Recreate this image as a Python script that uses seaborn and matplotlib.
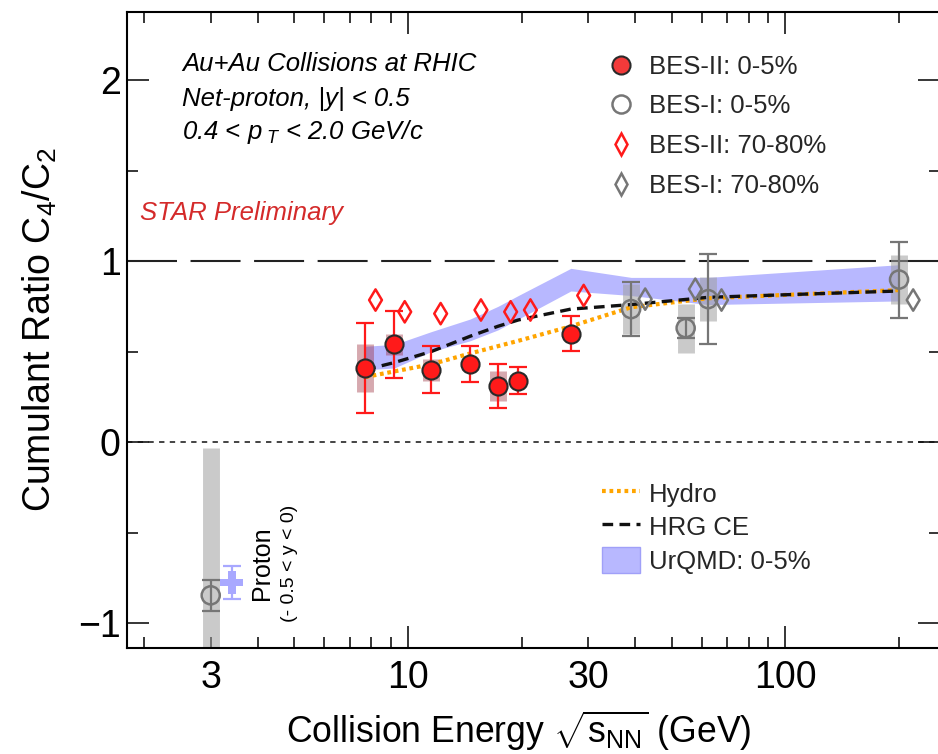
import numpy as np
import pandas as pd
import matplotlib
matplotlib.use("Agg")
import matplotlib.pyplot as plt
import seaborn as sns
from matplotlib.lines import Line2D
from matplotlib.patches import Patch
from matplotlib.ticker import FixedLocator, FixedFormatter

# ---------------- data ----------------
bes2_energy = [7.7, 9.2, 11.5, 14.6, 17.3, 19.6, 27.0]
bes2_ratio = [0.41, 0.54, 0.40, 0.43, 0.31, 0.34, 0.60]
bes2_stat = [0.25, 0.185, 0.13, 0.10, 0.12, 0.075, 0.095]
bes2_sys = [0.13, 0.06, 0.06, 0.03, 0.085, 0.03, 0.03]

bes1_energy = [3.0, 39.0, 54.4, 62.4, 200.0]
bes1_ratio = [-0.845, 0.735, 0.63, 0.79, 0.898]
bes1_stat = [0.085, 0.15, 0.057, 0.25, 0.21]
bes1_sys = [0.815, 0.14, 0.135, 0.12, 0.135]

# 70-80% centrality (plotted with small energy offsets)
per_bes2_energy = [8.2, 9.8, 12.2, 15.6, 18.7, 21.1, 29.2]
per_bes2_ratio = [0.785, 0.72, 0.71, 0.73, 0.72, 0.73, 0.81]
per_bes1_energy = [42.5, 57.7, 67.7, 218.0]
per_bes1_ratio = [0.79, 0.845, 0.785, 0.785]

urqmd_energy = [7.7, 9.2, 11.5, 14.6, 17.3, 19.6, 27.0, 39.0, 62.4, 200.0]
urqmd_low = [0.40, 0.41, 0.50, 0.56, 0.62, 0.68, 0.835, 0.81, 0.76, 0.78]
urqmd_high = [0.53, 0.54, 0.61, 0.68, 0.75, 0.81, 0.96, 0.91, 0.91, 0.98]

hrg_energy = [7.7, 9.2, 11.5, 14.6, 17.3, 19.6, 27.0, 39.0, 62.4, 200.0]
hrg_ratio = [0.40, 0.44, 0.50, 0.585, 0.64, 0.675, 0.735, 0.76, 0.80, 0.835]

hydro_energy = [7.7, 11.5, 14.6, 19.6, 27.0, 39.0, 62.4, 200.0]
hydro_ratio = [0.36, 0.43, 0.49, 0.56, 0.64, 0.745, 0.795, 0.84]

urqmd_p_energy = [3.41]
urqmd_p_ratio = [-0.775]
urqmd_p_err = [0.09]

xtick_major = [10, 100]
xtick_minor = [2, 3, 4, 5, 6, 7, 8, 9, 20, 30, 40, 50, 60, 70, 80, 90, 200]
xtick_labels = {3: "3", 30: "30"}
ytick_major = [-1, 0, 1, 2]
ytick_minor = [-0.5, 0.5, 1.5]

# ---------------- style ----------------
sns.set_theme(style="ticks")
plt.rcParams["font.family"] = ["Liberation Sans", "DejaVu Sans"]
plt.rcParams["mathtext.fontset"] = "custom"
plt.rcParams["mathtext.rm"] = "Liberation Sans"
plt.rcParams["mathtext.it"] = "Liberation Sans:italic"
plt.rcParams["mathtext.bf"] = "Liberation Sans:bold"

W, H = 938, 754
fig = plt.figure(figsize=(W / 100, H / 100), dpi=100)
L, R, T, B = 127, 939.5, 12, 647.5
ax = fig.add_axes([L / W, 1 - B / H, (R - L) / W, (B - T) / H])
ax.set_xscale("log")
ax.set_xlim(1.8, 256)
ax.set_ylim(-1.133, 2.375)

RED = "#ff1a1a"
GRAY = "#767676"

# UrQMD band
ax.fill_between(urqmd_energy, urqmd_low, urqmd_high, color="#b8b8ff", lw=0, zorder=1)

# reference lines
ax.axhline(1, color="#222222", lw=1.5, ls=(0, (24, 6.5)), zorder=2)
ax.axhline(0, color="#111111", lw=1.1, ls=(0, (3.5, 3.5)), zorder=2)

# models
sns.lineplot(x=hydro_energy, y=hydro_ratio, ax=ax, color="#ffa500", lw=3,
             linestyle=(0, (0.9, 0.9)), zorder=3, legend=False)
sns.lineplot(x=hrg_energy, y=hrg_ratio, ax=ax, color="#111111", lw=2.4,
             linestyle=(0, (3.2, 1.9)), zorder=3, legend=False)

# systematic boxes
ax.vlines(bes1_energy, np.array(bes1_ratio) - np.array(bes1_sys),
          np.array(bes1_ratio) + np.array(bes1_sys),
          color="#a0a0a0", alpha=0.55, lw=12.2, capstyle="butt", zorder=2.5)
ax.vlines(bes2_energy, np.array(bes2_ratio) - np.array(bes2_sys),
          np.array(bes2_ratio) + np.array(bes2_sys),
          color="#9a2a38", alpha=0.4, lw=12.2, capstyle="butt", zorder=2.5)

# statistical errors
ax.errorbar(bes1_energy, bes1_ratio, yerr=bes1_stat, fmt="none", ecolor=GRAY,
            elinewidth=1.6, capsize=6.2, capthick=1.6, zorder=4)
ax.errorbar(bes2_energy, bes2_ratio, yerr=bes2_stat, fmt="none", ecolor=RED,
            elinewidth=1.6, capsize=6.2, capthick=1.6, zorder=4)
ax.errorbar(urqmd_p_energy, urqmd_p_ratio, yerr=urqmd_p_err, fmt="none",
            ecolor="#a8a8ff", elinewidth=1.6, capsize=6.2, capthick=1.6, zorder=4)

# markers
sns.scatterplot(x=per_bes2_energy, y=per_bes2_ratio, ax=ax, marker="d", s=118,
                facecolors="none", edgecolors=RED, linewidth=1.8, zorder=5, legend=False)
sns.scatterplot(x=per_bes1_energy, y=per_bes1_ratio, ax=ax, marker="d", s=118,
                facecolors="none", edgecolors=GRAY, linewidth=1.8, zorder=5, legend=False)
sns.scatterplot(x=bes1_energy, y=bes1_ratio, ax=ax, marker="o", s=170,
                facecolors="none", edgecolors=GRAY, linewidth=1.8, zorder=6, legend=False)
sns.scatterplot(x=bes2_energy, y=bes2_ratio, ax=ax, marker="o", s=170,
                facecolors=RED, edgecolors="#2a2a2a", linewidth=1.5, zorder=6, legend=False)
sns.scatterplot(x=urqmd_p_energy, y=urqmd_p_ratio, ax=ax, marker="P", s=270,
                facecolors="#a8a8ff", edgecolors="none", linewidth=0, zorder=6, legend=False)

# axes styling
for side in ["left", "bottom", "top", "right"]:
    ax.spines[side].set_visible(True)
    ax.spines[side].set_linewidth(1.5)
    ax.spines[side].set_color("black")
ax.xaxis.set_major_locator(FixedLocator(xtick_major))
ax.xaxis.set_major_formatter(FixedFormatter([str(v) for v in xtick_major]))
ax.xaxis.set_minor_locator(FixedLocator(xtick_minor))
ax.xaxis.set_minor_formatter(FixedFormatter([xtick_labels.get(v, "") for v in xtick_minor]))
ax.yaxis.set_major_locator(FixedLocator(ytick_major))
ax.yaxis.set_major_formatter(FixedFormatter(["\u22121", "0", "1", "2"]))
ax.yaxis.set_minor_locator(FixedLocator(ytick_minor))
ax.tick_params(which="both", direction="in", top=True, right=True, color="black",
               width=1.1, labelsize=27, labelcolor="black")
ax.tick_params(which="major", length=16)
ax.tick_params(which="minor", length=8)
ax.tick_params(axis="x", which="both", pad=9)
ax.tick_params(axis="y", which="both", pad=4.5)
ax.grid(False)

ax.set_xlabel(r"Collision Energy $\sqrt{\mathrm{s}_{\mathrm{NN}}}$ (GeV)", fontsize=25.7, color="black")
ax.set_ylabel(r"Cumulant Ratio C$_4$/C$_2$", fontsize=27, color="black")
ax.xaxis.set_label_coords(0.4825, -0.097)
ax.yaxis.set_label_coords(-0.084, 0.5)

def fx(px):
    return (px - L) / (R - L)

def fy(py):
    return (B - py) / (B - T)

# annotations
ax.text(fx(182), fy(70.7), "Au+Au Collisions at RHIC", transform=ax.transAxes,
        fontsize=18.5, style="italic", va="baseline", ha="left", color="black")
ax.text(fx(182), fy(106), "Net-proton, |y| < 0.5", transform=ax.transAxes,
        fontsize=18.5, style="italic", va="baseline", ha="left", color="black")
ax.text(fx(182), fy(139.3), r"0.4 < $p_{\ T}$ < 2.0 GeV/c", transform=ax.transAxes,
        fontsize=18.5, style="italic", va="baseline", ha="left", color="black")
ax.text(fx(140), fy(220), "STAR Preliminary", transform=ax.transAxes,
        fontsize=18.5, style="italic", va="baseline", ha="left", color="#d42a2a")
ax.text(fx(262), fy(563), "Proton", transform=ax.transAxes, rotation=90,
        fontsize=18, va="center", ha="center", color="black")
ax.text(fx(289), fy(563), "(- 0.5 < y < 0)", transform=ax.transAxes, rotation=90,
        fontsize=14, va="center", ha="center", color="black")

# legends
FS = 18.5
h1 = [
    Line2D([], [], ls="", marker="o", ms=13, mfc="#f23a3a", mec="#2a2a2a", mew=1.5),
    Line2D([], [], ls="", marker="o", ms=13, mfc="none", mec=GRAY, mew=1.8),
    Line2D([], [], ls="", marker="d", ms=10.9, mfc="none", mec=RED, mew=1.8),
    Line2D([], [], ls="", marker="d", ms=10.9, mfc="none", mec=GRAY, mew=1.8),
]
l1 = ["BES-II: 0-5%", "BES-I: 0-5%", "BES-II: 70-80%", "BES-I: 70-80%"]
leg1 = ax.legend(h1, l1, loc="upper left", bbox_to_anchor=(609.2 / W, 1 - 54.5 / H),
                 bbox_transform=fig.transFigure, frameon=False, fontsize=FS,
                 borderpad=0, borderaxespad=0, handlelength=0.92, handletextpad=0.63,
                 labelspacing=0.61)
ax.add_artist(leg1)

h2 = [
    Line2D([], [], color="#ffa500", lw=3, ls=(0, (0.9, 0.9))),
    Line2D([], [], color="#111111", lw=2.4, ls=(0, (3.2, 1.9))),
    Patch(facecolor="#b8b8ff", edgecolor="#a0a0f8", lw=1),
]
l2 = ["Hydro", "HRG CE", "UrQMD: 0-5%"]
ax.legend(h2, l2, loc="upper left", bbox_to_anchor=(602 / W, 1 - 479.7 / H),
          bbox_transform=fig.transFigure, frameon=False, fontsize=FS,
          borderpad=0, borderaxespad=0, handlelength=1.48, handleheight=1.2,
          handletextpad=0.35, labelspacing=0.26)

fig.savefig("out.png", dpi=100)
